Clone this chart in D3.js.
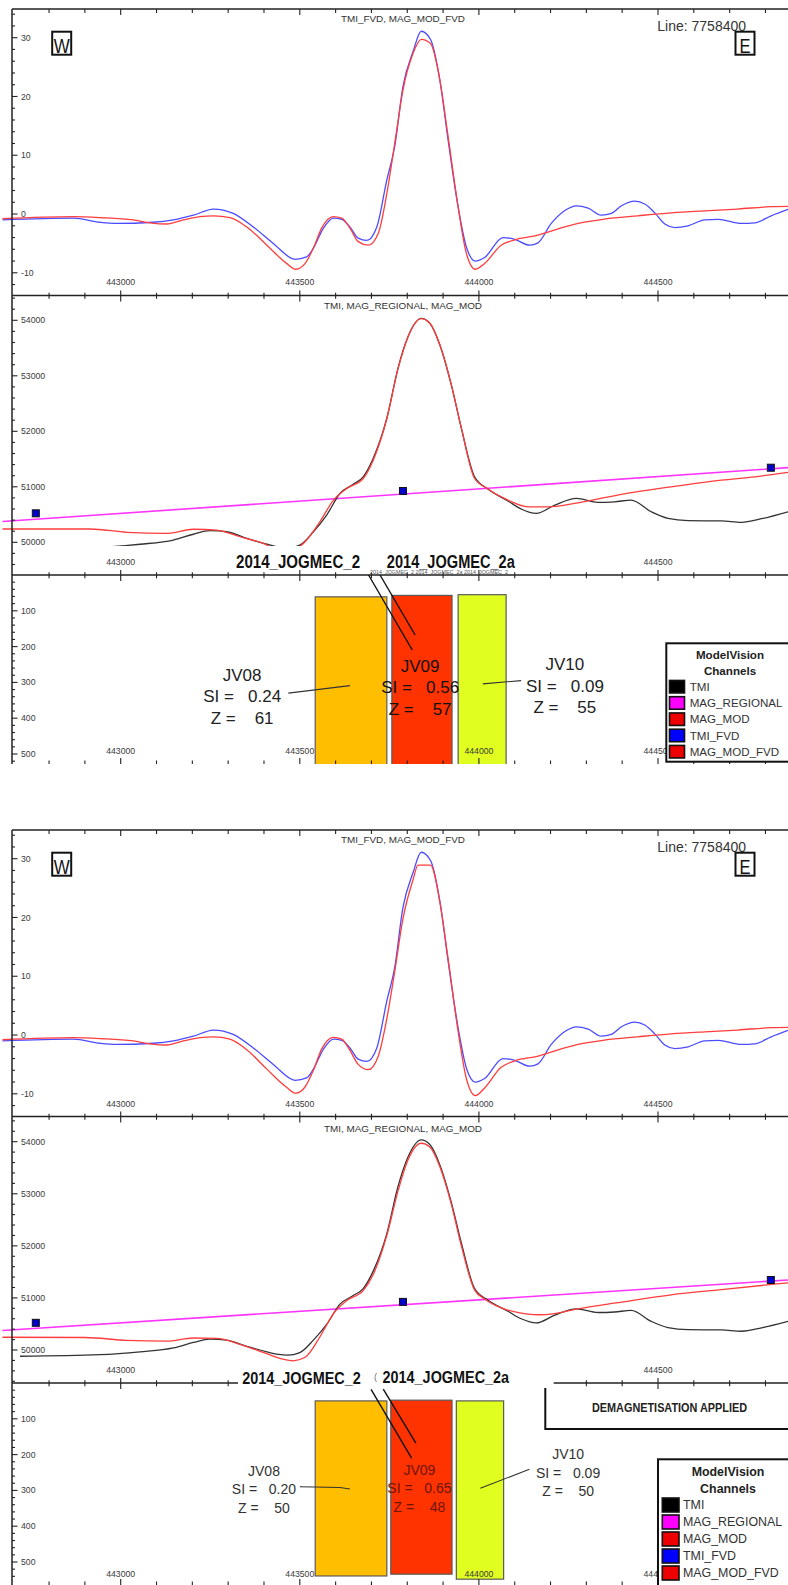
<!DOCTYPE html>
<html>
<head>
<meta charset="utf-8">
<script src="https://cdn.jsdelivr.net/npm/d3@7"></script>
<style>
body { margin: 0; background: #fff; }
svg { display: block; font-family: "Liberation Sans", Arial, sans-serif; }
</style>
</head>
<body>
<div id="chart"></div>
<script>
// ---- data (easting, value) ----
const eastTicks = [443000, 443500, 444000, 444500];
const fvdTicks = [-10, 0, 10, 20, 30];
const tmiTicks = [50000, 51000, 52000, 53000, 54000];
const depthTicks = [100, 200, 300, 400, 500];

const tmiFvd = [[442670,-1.0],[442868,-0.7],[442942,-1.4],[442989,-1.6],[443091,-1.4],[443147,-1.0],[443203,-0.2],[443259,0.85],[443314,0.1],[443370,-2.2],[443426,-5.0],[443487,-7.7],[443519,-7.3],[443538,-5.8],[443566,-2.4],[443594,-0.7],[443617,-0.9],[443640,-2.2],[443663,-4.1],[443687,-4.5],[443715,-2.2],[443743,5.8],[443765,11.5],[443788,21.7],[443816,27.6],[443839,31.1],[443865,29.7],[443891,22.8],[443914,12.6],[443942,1.2],[443965,-5.6],[443990,-8.0],[444016,-7.4],[444067,-4.0],[444100,-4.3],[444142,-5.3],[444165,-4.9],[444202,-1.6],[444240,0.6],[444272,1.4],[444305,1.0],[444342,-0.2],[444370,0.1],[444398,1.4],[444435,2.2],[444463,1.7],[444491,0.2],[444519,-1.7],[444547,-2.3],[444584,-2.0],[444630,-1.0],[444668,-0.9],[444733,-1.6],[444770,-1.5],[444816,-0.3],[444863,0.8]];

const magModFvd1 = [[442670,-0.8],[442868,-0.45],[442942,-0.6],[443035,-1.0],[443082,-1.5],[443128,-1.7],[443175,-1.0],[443221,-0.45],[443259,-0.3],[443305,-0.6],[443352,-2.2],[443408,-5.3],[443463,-8.4],[443489,-9.4],[443515,-8.4],[443538,-5.8],[443561,-2.4],[443594,-0.45],[443617,-0.7],[443640,-2.4],[443663,-4.7],[443691,-5.3],[443719,-3.3],[443743,3.5],[443765,12],[443788,21.1],[443816,27.3],[443839,29.7],[443865,29.0],[443891,22.8],[443914,13.2],[443942,1.2],[443965,-6.7],[443990,-9.4],[444016,-8.4],[444062,-5.3],[444100,-4.4],[444165,-3.6],[444212,-2.7],[444277,-1.6],[444351,-0.85],[444444,-0.3],[444537,0.2],[444630,0.55],[444723,0.85],[444816,1.25],[444863,1.3]];

const magModFvd2 = [[442670,-0.8],[442868,-0.45],[442942,-0.6],[443035,-1.0],[443082,-1.5],[443128,-1.7],[443175,-1.0],[443221,-0.45],[443259,-0.3],[443305,-0.7],[443352,-2.5],[443408,-5.8],[443463,-8.9],[443489,-9.9],[443515,-8.8],[443538,-6.0],[443561,-2.4],[443594,-0.4],[443617,-0.7],[443640,-2.6],[443663,-5.0],[443691,-5.9],[443719,-3.6],[443743,2.8],[443765,10.8],[443788,19.8],[443816,26.4],[443830,28.9],[443865,28.9],[443891,22.6],[443914,13.0],[443942,0.6],[443965,-7.4],[443990,-10.3],[444016,-9.0],[444062,-5.5],[444100,-4.4],[444165,-3.6],[444212,-2.7],[444277,-1.6],[444351,-0.85],[444444,-0.3],[444537,0.2],[444630,0.55],[444723,0.85],[444816,1.25],[444863,1.3]];

const tmi = [[442719,49880],[442942,49910],[443054,49965],[443147,50040],[443203,50145],[443249,50210],[443296,50190],[443352,50070],[443408,49965],[443440,49915],[443466,49900],[443500,49950],[443538,50190],[443575,50490],[443612,50880],[443649,51045],[443677,51180],[443705,51515],[443743,52235],[443774,53135],[443802,53705],[443839,54035],[443863,53945],[443891,53555],[443923,52835],[443951,52055],[443988,51180],[444025,50960],[444081,50745],[444118,50600],[444160,50520],[444212,50670],[444272,50790],[444332,50720],[444379,50730],[444425,50760],[444481,50550],[444528,50430],[444584,50390],[444677,50385],[444733,50360],[444789,50425],[444863,50550]];

const magMod1 = [[442670,50240],[442914,50240],[443017,50180],[443128,50160],[443203,50235],[443268,50220],[443333,50100],[443398,49980],[443440,49850],[443470,49820],[443510,49980],[443556,50370],[443594,50760],[443631,50970],[443677,51150],[443705,51480],[443743,52230],[443774,53120],[443802,53700],[443839,54030],[443863,53950],[443891,53560],[443923,52840],[443951,52060],[443988,51150],[444025,50960],[444081,50760],[444137,50640],[444193,50640],[444267,50700],[444398,50865],[444537,51000],[444677,51120],[444770,51180],[444863,51260]];

const magMod2 = [[442670,50245],[442900,50240],[443017,50185],[443128,50170],[443203,50230],[443268,50225],[443333,50110],[443400,49950],[443450,49830],[443482,49793],[443515,49860],[443556,50250],[443594,50700],[443631,50950],[443677,51140],[443705,51450],[443743,52200],[443774,53050],[443802,53650],[443839,53970],[443863,53900],[443891,53520],[443923,52800],[443951,52000],[443988,51150],[444016,50981],[444070,50790],[444118,50710],[444165,50677],[444212,50700],[444272,50787],[444398,50920],[444537,51060],[444677,51160],[444863,51290]];

const magRegional = [[442670,50375],[444863,51345]];
const regionalNodes = [[442763,50522],[443788,50924],[444815,51344]];

const channels = ["TMI", "MAG_REGIONAL", "MAG_MOD", "TMI_FVD", "MAG_MOD_FVD"];
const channelColors = ["#000000", "#ff00ff", "#ee0000", "#0000ff", "#ee0000"];

const bodyNames = ["JV08", "JV09", "JV10"];
const bodyColors = ["#ffbf00", "#ff3300", "#e0ff20"];
const bodySI1 = [0.24, 0.56, 0.09];
const bodyZ1 = [61, 57, 55];
const bodyWest1 = [443543, 443757, 443942];
const bodyEast1 = [443743, 443925, 444076];
const bodySI2 = [0.20, 0.65, 0.09];
const bodyZ2 = [50, 48, 50];
const bodyWest2 = [443543, 443754, 443937];
const bodyEast2 = [443743, 443925, 444069];
const bodyBase = [539, 534, 548];

// ---- layout ----
const W = 788, H = 1585;
const svg = d3.select("#chart").append("svg").attr("width", W).attr("height", H);
const x = d3.scaleLinear().domain([443000, 444500]).range([120.7, 658]);
const fmt = d3.format(".2f");

function hAxis(g, yPos, segs, mode) {
  const ticks = d3.range(442700, 444900, 100);
  segs.forEach(([a, b]) => {
    if (mode !== "up") {
      g.append("line").attr("x1", a).attr("x2", b).attr("y1", yPos).attr("y2", yPos)
        .attr("stroke", "#222").attr("stroke-width", 1.4);
    }
    ticks.filter(t => x(t) > a + 3 && x(t) <= b).forEach(t => {
      const major = t % 500 === 0;
      let y1, y2;
      if (mode === "down") { y1 = yPos; y2 = yPos + (major ? 6 : 4); }
      else if (mode === "up") { y1 = yPos - (major ? 6 : 3.5); y2 = yPos; }
      else { y1 = yPos - (major ? 5 : 2.7); y2 = yPos + (major ? 6 : 3.3); }
      g.append("line").attr("x1", x(t)).attr("x2", x(t)).attr("y1", y1).attr("y2", y2)
        .attr("stroke", "#222").attr("stroke-width", 1.1);
    });
  });
}

function xLabels(g, yBase, skip) {
  g.selectAll(null).data(eastTicks.filter(t => !skip || !skip.includes(t))).enter().append("text")
    .attr("x", d => x(d)).attr("y", yBase).attr("text-anchor", "middle")
    .attr("font-size", 8.7).attr("fill", "#3a3a3a").text(d => d);
}

function vTicks(g, scale, minor, labels, lo, hi) {
  minor.filter(v => scale(v) > lo && scale(v) < hi).forEach(v => {
    const major = labels.includes(v);
    g.append("line").attr("x1", 12).attr("x2", major ? 17.5 : 15)
      .attr("y1", scale(v)).attr("y2", scale(v)).attr("stroke", "#222").attr("stroke-width", 1.1);
  });
  g.selectAll(null).data(labels).enter().append("text")
    .attr("x", 21).attr("y", d => scale(d)).attr("dy", "0.35em")
    .attr("font-size", 8.7).attr("fill", "#3a3a3a").text(d => d);
}

function dirBox(g, cx, letter) {
  g.append("rect").attr("x", cx - 9.5).attr("y", 31.7).attr("width", 19).attr("height", 23)
    .attr("fill", "#fff").attr("stroke", "#111").attr("stroke-width", 2);
  g.append("text").attr("x", cx).attr("y", 52.6).attr("text-anchor", "middle")
    .attr("font-size", 21).attr("textLength", letter === "W" ? 16 : 11)
    .attr("lengthAdjust", "spacingAndGlyphs").attr("fill", "#111").text(letter);
}

function legend(g, L) {
  g.append("rect").attr("x", L.x).attr("y", L.y).attr("width", 140).attr("height", L.h)
    .attr("fill", "#fff").attr("stroke", "#111").attr("stroke-width", 2);
  ["ModelVision", "Channels"].forEach((t, i) => {
    g.append("text").attr("x", L.cx).attr("y", L.t0 + i * L.tg).attr("text-anchor", "middle")
      .attr("font-weight", "bold").attr("font-size", L.fs).attr("fill", "#222").text(t);
  });
  channels.forEach((c, i) => {
    const cy = L.r0 + i * L.rg;
    g.append("rect").attr("x", L.sx).attr("y", cy - L.sh / 2).attr("width", L.sw).attr("height", L.sh)
      .attr("fill", channelColors[i]).attr("stroke", "#111").attr("stroke-width", 1.6);
    g.append("text").attr("x", L.tx).attr("y", cy).attr("dy", "0.36em")
      .attr("font-size", L.fs).attr("fill", "#333").text(c);
  });
}

function drawFigure(cfg) {
  const g = svg.append("g").attr("transform", `translate(0,${cfg.off})`);
  const y1 = d3.scaleLinear().domain([-10, 30]).range([272.8, 37.7]);
  const y2 = d3.scaleLinear().domain([50000, 54000]).range(cfg.p2Range);
  const y3 = d3.scaleLinear().domain([0, 500]).range([cfg.ax23, cfg.ax23 + 179]);

  const defs = g.append("defs");
  const clip = (id, top, bottom) => defs.append("clipPath").attr("id", id)
    .append("rect").attr("x", 0).attr("y", top).attr("width", W).attr("height", bottom - top);
  clip(cfg.id + "p1", 10, 294);
  clip(cfg.id + "p2", 296, cfg.p2Clip);
  clip(cfg.id + "p3", cfg.ax23 + 1, 764);

  // panel 3 bodies
  const p3 = g.append("g").attr("clip-path", `url(#${cfg.id}p3)`);
  bodyNames.forEach((n, i) => {
    p3.append("rect").attr("x", x(cfg.west[i])).attr("y", y3(cfg.Z[i]))
      .attr("width", x(cfg.east[i]) - x(cfg.west[i])).attr("height", y3(bodyBase[i]) - y3(cfg.Z[i]))
      .attr("fill", bodyColors[i]).attr("stroke", "#5a5a5a").attr("stroke-width", 1.2);
  });

  // panel 1 curves
  const line1 = d3.line().x(d => x(d[0])).y(d => y1(d[1])).curve(d3.curveMonotoneX);
  const p1 = g.append("g").attr("clip-path", `url(#${cfg.id}p1)`);
  p1.append("path").attr("d", line1(tmiFvd)).attr("fill", "none").attr("stroke", "#4b4bff").attr("stroke-width", 1.3);
  p1.append("path").attr("d", line1(cfg.modFvd)).attr("fill", "none").attr("stroke", "#ff3d3d").attr("stroke-width", 1.3);

  // panel 2 curves
  const line2 = d3.line().x(d => x(d[0])).y(d => y2(d[1])).curve(d3.curveMonotoneX);
  const p2 = g.append("g").attr("clip-path", `url(#${cfg.id}p2)`);
  p2.append("path").attr("d", line2(magRegional)).attr("fill", "none").attr("stroke", "#ff33ff").attr("stroke-width", 1.6);
  p2.append("path").attr("d", line2(tmi)).attr("fill", "none").attr("stroke", "#333").attr("stroke-width", 1.3);
  p2.append("path").attr("d", line2(cfg.mod)).attr("fill", "none").attr("stroke", "#ff3d3d").attr("stroke-width", 1.3);
  p2.selectAll(null).data(regionalNodes).enter().append("rect")
    .attr("x", d => x(d[0]) - 3.5).attr("y", d => y2(d[1]) - 3.5).attr("width", 7).attr("height", 7)
    .attr("fill", "#0000c8").attr("stroke", "#111").attr("stroke-width", 1);

  // white label strip over the panel 2 / panel 3 boundary
  g.append("rect").attr("x", cfg.strip[0]).attr("y", cfg.strip[1]).attr("width", cfg.strip[2] - cfg.strip[0])
    .attr("height", cfg.strip[3] - cfg.strip[1]).attr("fill", "#fff");

  // axes
  g.append("line").attr("x1", 12).attr("x2", 12).attr("y1", 9).attr("y2", 764).attr("stroke", "#222").attr("stroke-width", 1.5);
  hAxis(g, 9, [[12, W]], "down");
  hAxis(g, 295.5, [[12, W]], "cross");
  hAxis(g, cfg.ax23, cfg.ax23Segs, "cross");
  hAxis(g, 764, [[12, W]], "up");
  vTicks(g, y1, d3.range(-12, 36, 2), fvdTicks, 11, 294);
  vTicks(g, y2, d3.range(49200, 54800, 200), tmiTicks, 297, cfg.ax23 - 1);
  vTicks(g, y3, d3.range(20, 560, 20), depthTicks, cfg.ax23 + 1, 763);
  xLabels(g, cfg.lab1);
  xLabels(g, cfg.lab2, [443500, 444000]);
  xLabels(g, cfg.lab3);

  // panel titles and header
  g.append("text").attr("x", 403).attr("y", 21.5).attr("text-anchor", "middle")
    .attr("font-size", 9.9).attr("fill", "#333").text("TMI_FVD, MAG_MOD_FVD");
  g.append("text").attr("x", 403).attr("y", cfg.t2).attr("text-anchor", "middle")
    .attr("font-size", 9.9).attr("fill", "#333").text("TMI, MAG_REGIONAL, MAG_MOD");
  g.append("text").attr("x", 657.3).attr("y", 30.6).attr("font-size", 14).attr("fill", "#333").text("Line: 7758400");
  dirBox(g, 61.7, "W");
  dirBox(g, 745, "E");

  // drillhole labels and leaders
  const A = cfg.ann;
  A.holes.forEach(h => {
    g.append("text").attr("x", x(h.e)).attr("y", h.y).attr("font-weight", "bold")
      .attr("font-size", A.holeFs).attr("textLength", h.w).attr("lengthAdjust", "spacingAndGlyphs")
      .attr("fill", "#111").text(h.t);
  });
  if (A.scribble) {
    g.append("text").attr("x", 370).attr("y", cfg.ax23 - 1).attr("font-size", 4.5).attr("fill", "#555")
      .attr("textLength", 138).attr("lengthAdjust", "spacingAndGlyphs").text("2014_JOGMEC_2 2014_JOGMEC_2a 2014_JOGMEC_2");
  }
  if (A.bracket) {
    // small clipped mark left of the second hole label
    g.append("path").attr("d", `M376.5,${cfg.ax23 - 10}q-3,5 0,9`).attr("fill", "none")
      .attr("stroke", "#999").attr("stroke-width", 1.2);
  }
  const lineD = d3.line().x(d => x(d[0])).y(d => y3(d[1]));
  A.holeLeaders.forEach(l => g.append("path").attr("d", lineD(l)).attr("fill", "none").attr("stroke", "#111").attr("stroke-width", 1.4));
  A.leaders.forEach(l => g.append("path").attr("d", lineD(l)).attr("fill", "none").attr("stroke", "#333").attr("stroke-width", 1.1));

  bodyNames.forEach((n, i) => {
    const lab = A.labels[i];
    const t = g.append("text").attr("text-anchor", "middle").attr("font-size", A.fs)
      .attr("fill", lab.c).style("white-space", "pre");
    [n, "SI =   " + fmt(cfg.SI[i]), "Z =    " + cfg.Z[i]].forEach((s, k) => {
      t.append("tspan").attr("x", x(lab.e)).attr("y", y3(lab.d) + k * A.lh).text(s);
    });
  });

  if (cfg.demag) {
    g.append("path").attr("d", `M545.3,${cfg.ax23 + 5}V608H${W}`).attr("fill", "none")
      .attr("stroke", "#111").attr("stroke-width", 2);
    g.append("text").attr("x", 669.5).attr("y", 590.7).attr("text-anchor", "middle")
      .attr("font-weight", "bold").attr("font-size", 12.5).attr("textLength", 155)
      .attr("lengthAdjust", "spacingAndGlyphs").attr("fill", "#222").text("DEMAGNETISATION APPLIED");
  }

  legend(g, cfg.legend);
}

drawFigure({
  id: "f1", off: 0, p2Range: [542.3, 320.3], p2Clip: 546, ax23: 575, ax23Segs: [[12, W]],
  t2: 309, lab1: 285, lab2: 565, lab3: 754,
  strip: [232, 546, 518, 573.3],
  modFvd: magModFvd1, mod: magMod1,
  SI: bodySI1, Z: bodyZ1, west: bodyWest1, east: bodyEast1,
  ann: {
    fs: 17, lh: 21.7, holeFs: 18, scribble: true,
    holes: [{ t: "2014_JOGMEC_2", e: 443322, y: 568.3, w: 124 }, { t: "2014_JOGMEC_2a", e: 443743, y: 568.3, w: 128 }],
    holeLeaders: [[[443692, 0], [443814, 209.5]], [[443724, 0], [443822, 167.6]]],
    leaders: [[[443468, 330], [443640, 309]], [[444011, 304], [444118, 295]]],
    labels: [{ e: 443339, d: 295, c: "#222" }, { e: 443836, d: 270, c: "#111" }, { e: 444240, d: 265, c: "#222" }]
  },
  legend: { x: 666.3, y: 643.3, h: 118.4, cx: 730, t0: 659.3, tg: 15.8, fs: 11.6, r0: 686.7, rg: 16.25, sx: 669.5, sw: 15, sh: 12.5, tx: 689.7 }
});

drawFigure({
  id: "f2", off: 821, p2Range: [529, 320.7], p2Clip: 561, ax23: 562, ax23Segs: [[12, 238], [553.7, W]],
  t2: 310.7, lab1: 286.3, lab2: 551.7, lab3: 755.7,
  strip: [238, 545, 553, 568], demag: true,
  modFvd: magModFvd2, mod: magMod2,
  SI: bodySI2, Z: bodyZ2, west: bodyWest2, east: bodyEast2,
  ann: {
    fs: 14, lh: 18.4, holeFs: 17, bracket: true,
    holes: [{ t: "2014_JOGMEC_2", e: 443339, y: 563.3, w: 118.7 }, { t: "2014_JOGMEC_2a", e: 443731, y: 562.3, w: 126.6 }],
    holeLeaders: [[[443699, 17.6], [443812, 210]], [[443733, 16.8], [443824, 168]]],
    leaders: [[[443500, 290], [443612, 292], [443640, 296]], [[444004, 294], [444141, 241]]],
    labels: [{ e: 443400, d: 260, c: "#333" }, { e: 443834, d: 257, c: "#6e1500" }, { e: 444249, d: 213, c: "#333" }]
  },
  legend: { x: 658, y: 638.3, h: 140, cx: 728, t0: 654.7, tg: 17, fs: 12.4, r0: 684, rg: 17, sx: 662.3, sw: 16.7, sh: 14, tx: 683 }
});
</script>
</body>
</html>
